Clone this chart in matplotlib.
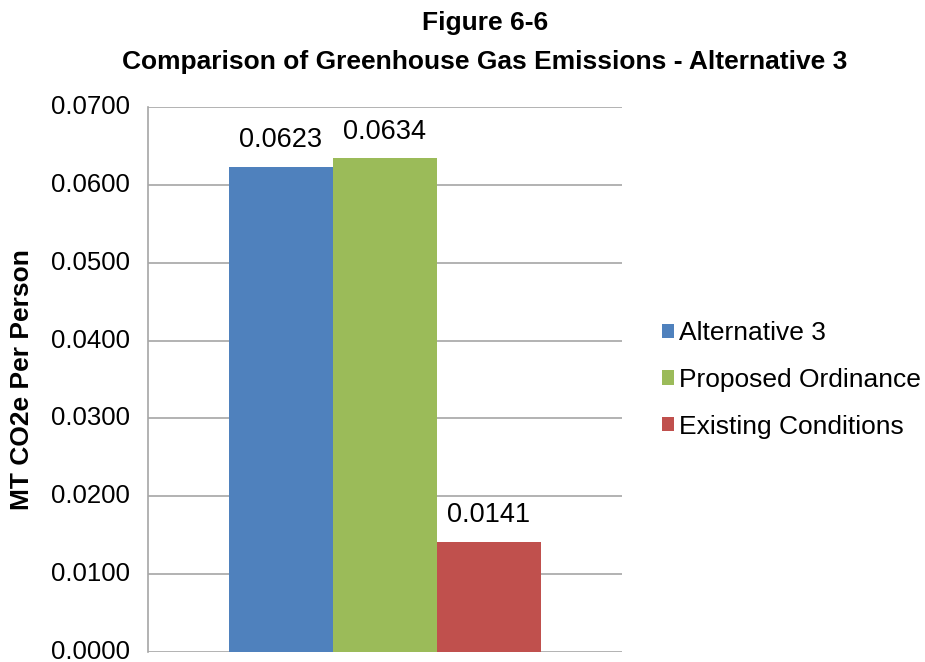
import matplotlib
matplotlib.use("Agg")
import matplotlib.pyplot as plt
from matplotlib.patches import Patch
import numpy as np

plt.rcParams['font.family'] = ['Liberation Sans', 'DejaVu Sans']

series = ["Alternative 3", "Proposed Ordinance", "Existing Conditions"]
values = [0.0623, 0.0634, 0.0141]
colors = ["#4F81BD", "#9BBB59", "#C0504D"]
y_ticks = [0.0, 0.01, 0.02, 0.03, 0.04, 0.05, 0.06, 0.07]

fig = plt.figure(figsize=(9.25, 6.62), dpi=100)
ax = fig.add_axes([0.160, 0.0151, 0.512, 0.8232])

bar_w = 0.22
offsets = (np.arange(len(series)) - 1) * bar_w
for off, v, c, name in zip(offsets, values, colors, series):
    ax.bar(off, v, width=bar_w, color=c, label=name, zorder=3)
    ax.annotate(f"{v:.4f}", (off, v), xytext=(0, 10), textcoords="offset points",
                ha="center", va="bottom", fontsize=19.5, color="#000000")

ax.set_xlim(-0.5, 0.5)
ax.set_ylim(0, 0.07)
ax.set_yticks(y_ticks)
ax.set_yticklabels([f"{t:.4f}" for t in y_ticks], fontsize=18.5, va="center")
ax.set_xticks([])
ax.tick_params(axis="y", length=0, pad=13)
ax.grid(axis="y", color="#A6A6A6", linewidth=1.2, zorder=0)
for s in ["top", "right", "bottom"]:
    ax.spines[s].set_visible(False)
ax.spines["left"].set_color("#A6A6A6")
ax.spines["left"].set_linewidth(1.2)

ax.set_ylabel("MT CO2e Per Person", fontsize=19, fontweight="bold", labelpad=12)

fig.text(0.524, 0.965, "Figure 6-6", ha="center", va="center",
         fontsize=19, fontweight="bold")
fig.text(0.524, 0.907, "Comparison of Greenhouse Gas Emissions - Alternative 3",
         ha="center", va="center", fontsize=19, fontweight="bold")

handles = [Patch(facecolor=c, label=n) for c, n in zip(colors, series)]
fig.legend(handles=handles, loc="center left", bbox_to_anchor=(0.716, 0.426),
           frameon=False, fontsize=19, handlelength=0.45, handleheight=0.45,
           handletextpad=0.2, labelspacing=0.86, borderaxespad=0, borderpad=0)

fig.savefig("out.png", dpi=100)
